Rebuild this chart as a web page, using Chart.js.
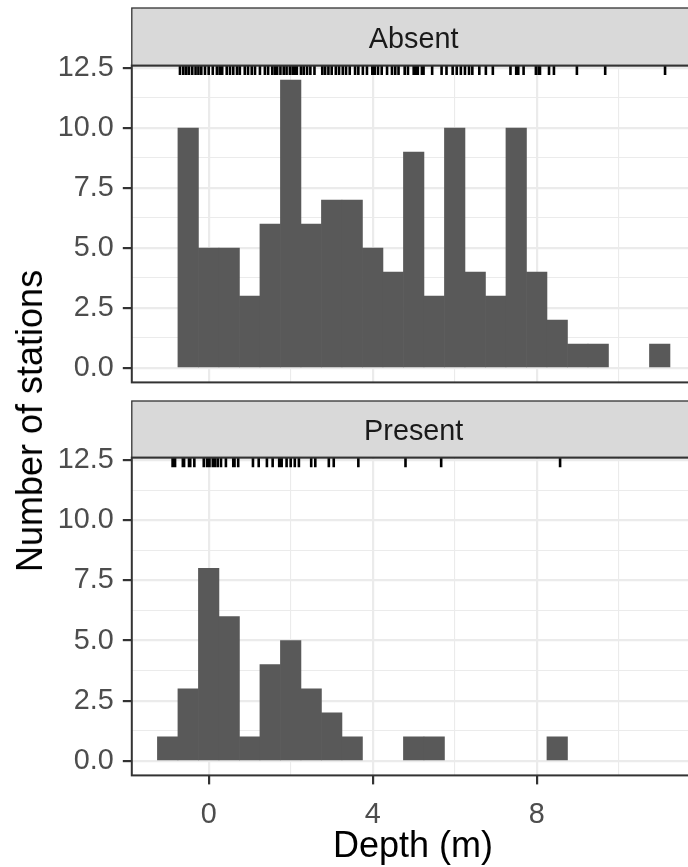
<!DOCTYPE html>
<html>
<head>
<meta charset="utf-8">
<script src="https://cdn.jsdelivr.net/npm/chart.js@4"></script>
<style>
html, body { margin: 0; padding: 0; background: #fff; overflow: hidden; }
body { width: 688px; height: 867px; position: relative; font-family: "Liberation Sans", Arial, sans-serif; }
#wrap { position: absolute; left: 0; top: 0; width: 700px; height: 867px; }
canvas { position: absolute; left: 0; }
#absent { top: 0; }
#present { top: 395px; }
.ytitle { position: absolute; left: 30px; top: 421px; transform: translate(-50%, -50%) rotate(-90deg); font-size: 36px; line-height: 36px; white-space: nowrap; color: #000; }
.xtitle { position: absolute; left: 413px; top: 845px; transform: translate(-50%, -50%); font-size: 36px; line-height: 36px; white-space: nowrap; color: #000; }
</style>
</head>
<body>
<div id="wrap">
  <canvas id="absent" width="700" height="395"></canvas>
  <canvas id="present" width="700" height="472"></canvas>
  <div class="ytitle">Number of stations</div>
  <div class="xtitle">Depth (m)</div>
</div>
<script>
// histogram bins (bin centres, width 0.5 m) and counts
var absentBins = [-0.5, 0, 0.5, 1, 1.5, 2, 2.5, 3, 3.5, 4, 4.5, 5, 5.5, 6, 6.5, 7, 7.5, 8, 8.5, 9, 9.5, 10, 10.5, 11];
var absentCounts = [10, 5, 5, 3, 6, 12, 6, 7, 7, 5, 4, 9, 3, 10, 4, 3, 10, 4, 2, 1, 1, 0, 0, 1];
var presentBins = [-1, -0.5, 0, 0.5, 1, 1.5, 2, 2.5, 3, 3.5, 4, 4.5, 5, 5.5, 6, 6.5, 7, 7.5, 8, 8.5];
var presentCounts = [1, 3, 8, 6, 1, 4, 5, 3, 2, 1, 0, 0, 1, 1, 0, 0, 0, 0, 0, 1];

// station depths for the rug marks
var absentDepths = [-0.70, -0.62, -0.55, -0.48, -0.40, -0.32, -0.25, -0.18, -0.09, 0.0, 0.1, 0.2, 0.27,
  0.33, 0.44, 0.52, 0.6, 0.69, 0.76, 0.88, 0.96, 1.05, 1.13, 1.25, 1.37, 1.45, 1.55, 1.62,
  1.67, 1.75, 1.83, 1.9, 1.98, 2.05, 2.1, 2.15, 2.25, 2.32, 2.4, 2.48, 2.58, 2.77,
  2.84, 2.92, 3.0, 3.1, 3.18, 3.27, 3.35, 3.44, 3.57, 3.65, 3.76, 3.86, 3.99, 4.05, 4.13, 4.22,
  4.35, 4.47, 4.55, 4.63, 4.78, 4.86, 5.0, 5.05, 5.1, 5.2, 5.24, 5.45, 5.68, 5.8,
  5.95, 6.05, 6.15, 6.25, 6.35, 6.43, 6.6, 6.76, 6.93, 7.36, 7.5, 7.55, 7.68, 7.98, 8.05, 8.08,
  8.3, 8.42, 8.98, 9.67, 11.13];
var presentDepths = [-0.88, -0.82, -0.63, -0.6, -0.48, -0.45, -0.35, -0.12, -0.04, 0.02, 0.1, 0.15,
  0.22, 0.3, 0.42, 0.6, 0.63, 0.72, 1.08, 1.22, 1.42, 1.56, 1.72, 1.78, 1.9, 2.0, 2.1, 2.2,
  2.5, 2.6, 2.93, 3.05, 3.65, 4.8, 5.67, 8.57];

var xTicks = [0, 2, 4, 6, 8, 10];
var yTicks = [0, 1.25, 2.5, 3.75, 5, 6.25, 7.5, 8.75, 10, 11.25, 12.5];

var FONT = '"Liberation Sans", Arial, sans-serif';

// rug marks, strip and panel border
var facet = {
  id: 'facet',
  afterDatasetsDraw: function (chart, args, opts) {
    var a = chart.chartArea, c = chart.ctx, x = chart.scales.x;
    c.save();
    c.strokeStyle = '#000';
    c.lineWidth = 2.6;
    var len = (a.bottom - a.top) * 0.03;
    c.beginPath();
    opts.rug.forEach(function (d) {
      var px = x.getPixelForValue(d);
      c.moveTo(px, a.top);
      c.lineTo(px, a.top + len);
    });
    c.stroke();

    c.fillStyle = '#D9D9D9';
    c.fillRect(a.left, a.top - opts.strip, a.right - a.left, opts.strip);
    c.strokeStyle = '#333333';
    c.lineWidth = 1.3;
    c.strokeRect(a.left, a.top - opts.strip, a.right - a.left, opts.strip);
    c.fillStyle = '#1A1A1A';
    c.font = '28.8px ' + FONT;
    c.textAlign = 'center';
    c.textBaseline = 'alphabetic';
    c.fillText(opts.label, (a.left + a.right) / 2, a.top - 17.5);

    c.strokeStyle = '#333333';
    c.lineWidth = 2;
    c.strokeRect(a.left, a.top, a.right - a.left, a.bottom - a.top);
    c.restore();
  }
};

function isMajorY(ctx) { return ctx.tick && ctx.tick.value % 2.5 === 0; }
function isMajorX(ctx) { return ctx.tick && ctx.tick.value % 4 === 0; }

function makePanel(id, bins, counts, rug, label, showX, padding, strip) {
  var points = bins.map(function (b, i) { return {x: b, y: counts[i]}; });
  return new Chart(document.getElementById(id), {
    type: 'bar',
    data: {
      datasets: [{
        data: points,
        backgroundColor: function (ctx) { return ctx.raw && ctx.raw.y > 0 ? '#595959' : 'rgba(0,0,0,0)'; },
        borderWidth: 0,
        barPercentage: 1,
        categoryPercentage: 1
      }]
    },
    options: {
      responsive: false,
      animation: false,
      layout: { padding: padding },
      plugins: {
        legend: { display: false },
        tooltip: { enabled: false },
        facet: { rug: rug, label: label, strip: strip }
      },
      scales: {
        x: {
          type: 'linear',
          min: -1.875,
          max: 11.875,
          offset: false,
          afterBuildTicks: function (s) { s.ticks = xTicks.map(function (v) { return {value: v}; }); },
          afterFit: function (s) { s.height = showX ? 50 : 0; s.paddingLeft = 0; s.paddingRight = 0; },
          border: { display: false },
          grid: {
            offset: false,
            color: '#EBEBEB',
            lineWidth: function (ctx) { return isMajorX(ctx) ? 2.2 : 1.1; },
            drawTicks: showX,
            tickLength: 9,
            tickColor: function (ctx) { return isMajorX(ctx) ? '#333333' : 'rgba(0,0,0,0)'; },
            tickWidth: 2.2
          },
          ticks: {
            display: showX,
            autoSkip: false,
            maxRotation: 0,
            padding: 13,
            color: '#4D4D4D',
            font: { size: 28.8, family: FONT },
            callback: function (v) { return v % 4 === 0 ? String(v) : ''; }
          }
        },
        y: {
          min: -0.6,
          max: 12.6,
          afterBuildTicks: function (s) { s.ticks = yTicks.map(function (v) { return {value: v}; }); },
          afterFit: function (s) { s.width = 131.8; s.paddingTop = 0; s.paddingBottom = 0; },
          border: { display: false },
          grid: {
            color: '#EBEBEB',
            lineWidth: function (ctx) { return isMajorY(ctx) ? 2.2 : 1.1; },
            tickLength: 9,
            tickColor: function (ctx) { return isMajorY(ctx) ? '#333333' : 'rgba(0,0,0,0)'; },
            tickWidth: 2.2
          },
          ticks: {
            autoSkip: false,
            padding: 9,
            color: '#4D4D4D',
            font: { size: 28.8, family: FONT },
            callback: function (v) { return v % 2.5 === 0 ? v.toFixed(1) : ''; }
          }
        }
      }
    },
    plugins: [facet]
  });
}

makePanel('absent', absentBins, absentCounts, absentDepths, 'Absent', false,
  { top: 65.6, bottom: 12.6, left: 0, right: 4.4 }, 57.6);
makePanel('present', presentBins, presentCounts, presentDepths, 'Present', true,
  { top: 62.6, bottom: 41.6, left: 0, right: 4.4 }, 56.6);
</script>
</body>
</html>
